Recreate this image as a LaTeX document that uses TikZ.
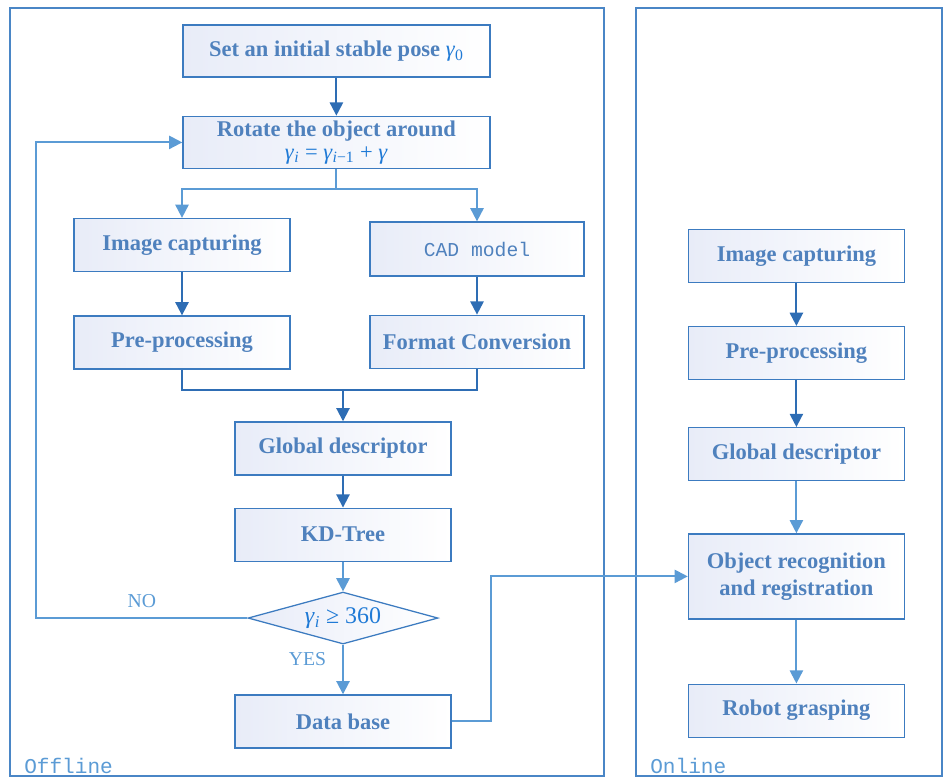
\documentclass[tikz,border=0pt]{standalone}
\usepackage{fontspec}
\setmainfont{Liberation Serif}
\setmonofont{Liberation Mono}
\usetikzlibrary{positioning,shapes.geometric,arrows.meta}
\definecolor{framecol}{HTML}{4A86C6}
\definecolor{boxline}{HTML}{3C7BC0}
\definecolor{boxtext}{HTML}{4F81BD}
\definecolor{mathcol}{HTML}{1F7AD6}
\definecolor{darkflow}{HTML}{2E6DB4}
\definecolor{lightflow}{HTML}{5B9BD5}
\definecolor{boxfill}{HTML}{E8ECF8}
\newcommand{\gm}{\textit{γ}}
\begin{document}
\begin{tikzpicture}[
       node distance=1cm,
       stepbox/.style={rectangle, draw=boxline, line width=0.9pt, minimum width=5.4cm, minimum height=1.325cm, align=center, left color=boxfill, right color=white, text=boxtext, font=\fontsize{16}{19}\selectfont\bfseries},
       widebox/.style={stepbox, minimum width=7.675cm, minimum height=1.3cm},
       decision/.style={diamond, draw=boxline, line width=0.9pt, aspect=3.65, minimum width=4.75cm, minimum height=1.3cm, inner sep=0pt, left color=boxfill, right color=white, text=mathcol, font=\fontsize{17}{19}\selectfont},
       frame/.style={draw=framecol, line width=1pt},
       panellabel/.style={text=lightflow, font=\fontsize{15}{16}\selectfont\ttfamily, inner sep=0pt},
       answer/.style={text=lightflow, font=\fontsize{14}{16}\selectfont},
       darkarrow/.style={-{Triangle[length=3.3mm,width=3.3mm]}, line width=1.4pt, darkflow},
       lightarrow/.style={-{Triangle[length=3.3mm,width=3.3mm]}, line width=1.4pt, lightflow},
       darkline/.style={line width=1.4pt, darkflow},
       lightline/.style={line width=1.4pt, lightflow}
   ]
   \useasboundingbox (0,0) rectangle (23.65,-19.475);

   % panels
   \draw[frame] (0.25,-0.2) rectangle (15.1,-19.4);
   \draw[frame] (15.9,-0.2) rectangle (23.55,-19.4);
   \node[panellabel, anchor=base west] (offlab) at (0.6,-19.33) {Offline};
   \node[panellabel, anchor=base west] (onlab) at (16.25,-19.33) {Online};

   % offline
   \node[widebox] (setpose) at (8.41,-1.275) {Set an initial stable pose {\mdseries\color{mathcol}\gm\textsubscript{0}}};
   \node[widebox, below=0.95cm of setpose] (rotate) {Rotate the object around\\[-3pt]{\mdseries\color{mathcol}\gm\textsubscript{\textit{i}} = \gm\textsubscript{\textit{i}−1} + \gm}};
   \node[stepbox] (imgcap) at (4.55,-6.125) {Image capturing};
   \node[stepbox, minimum width=5.35cm, minimum height=1.35cm, font=\fontsize{14}{16}\selectfont\ttfamily] (cad) at (11.925,-6.225) {CAD model};
   \node[stepbox, below=1.08cm of imgcap] (preproc) {Pre-processing};
   \node[stepbox, minimum width=5.35cm, below=0.95cm of cad] (convert) {Format Conversion};
   \node[stepbox] (globdesc) at (8.575,-11.21) {Global descriptor};
   \node[stepbox, below=0.8cm of globdesc] (kdtree) {KD-Tree};
   \node[decision, below=0.74cm of kdtree] (check) {\gm\textsubscript{\textit{i}} ≥ 360};
   \node[stepbox, below=1.24cm of check] (database) {Data base};

   % online
   \node[stepbox] (onimg) at (19.91,-6.4) {Image capturing};
   \node[stepbox, below=1.07cm of onimg] (onpre) {Pre-processing};
   \node[stepbox, below=1.17cm of onpre] (onglob) {Global descriptor};
   \node[stepbox, minimum height=2.125cm, below=1.3cm of onglob] (recog) {Object recognition\\and registration};
   \node[stepbox, below=1.6cm of recog] (grasp) {Robot grasping};

   % connectors
   \draw[darkarrow] (setpose) -- (rotate);
   \draw[lightline] (rotate.south) -- ++(0,-0.5) coordinate (split);
   \draw[lightarrow] (split) -| (imgcap.north);
   \draw[lightarrow] (split) -| (cad.north);
   \draw[darkarrow] (imgcap) -- (preproc);
   \draw[darkarrow] (cad) -- (convert);
   \draw[darkline] (preproc.south) -- ++(0,-0.5) coordinate (merge) -| (convert.south);
   \draw[darkarrow] (globdesc.north |- merge) -- (globdesc.north);
   \draw[darkarrow] (globdesc) -- (kdtree);
   \draw[lightarrow] (kdtree) -- (check);
   \draw[lightarrow] (check.west) -- node[answer, above=3pt, pos=0.5] (nolab) {NO} ++(-5.275,0) |- (rotate.west);
   \draw[lightarrow] (check.south) -- node[answer, left=8pt, pos=0.3] (yeslab) {YES} (database.north);
   \draw[lightarrow] (database.east) -- ++(0.975,0) |- (recog.west);

   \draw[darkarrow] (onimg) -- (onpre);
   \draw[darkarrow] (onpre) -- (onglob);
   \draw[lightarrow] (onglob) -- (recog);
   \draw[lightarrow] (recog) -- (grasp);
\end{tikzpicture}
\end{document}
